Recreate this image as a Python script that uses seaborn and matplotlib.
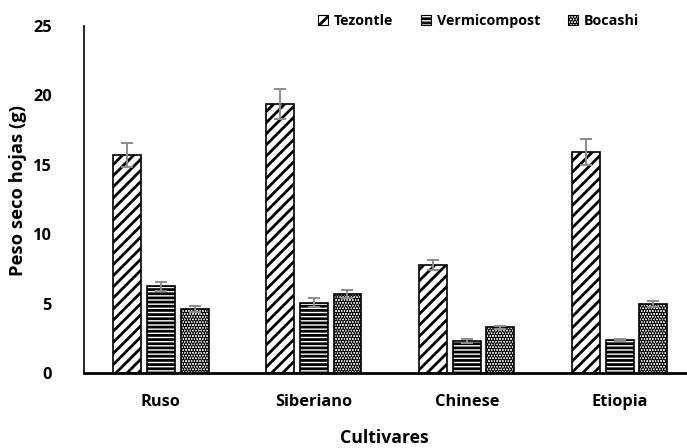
import numpy as np
import pandas as pd
import matplotlib
matplotlib.use("Agg")
import matplotlib.pyplot as plt
from matplotlib.patches import Patch
import seaborn as sns

# Leaf dry weight per cultivar and substrate
cultivares = ["Ruso", "Siberiano", "Chinese", "Etiopia"]
sustratos = ["Tezontle", "Vermicompost", "Bocashi"]
tezontle = [15.7, 19.35, 7.75, 15.95]
vermicompost = [6.25, 5.06, 2.29, 2.36]
bocashi = [4.62, 5.68, 3.28, 4.95]
err_tezontle = [0.85, 1.08, 0.36, 0.93]
err_vermicompost = [0.34, 0.33, 0.15, 0.08]
err_bocashi = [0.21, 0.28, 0.12, 0.22]
yticks = [0, 5, 10, 15, 20, 25]

values = {"Tezontle": tezontle, "Vermicompost": vermicompost, "Bocashi": bocashi}
errors = {"Tezontle": err_tezontle, "Vermicompost": err_vermicompost, "Bocashi": err_bocashi}
hatches = {"Tezontle": "///", "Vermicompost": "----", "Bocashi": "......"}

df = pd.DataFrame(
    [(c, s, values[s][i]) for s in sustratos for i, c in enumerate(cultivares)],
    columns=["Cultivar", "Sustrato", "Peso"],
)

sns.set_theme(style="white")
plt.rcParams["font.family"] = ["Open Sans", "DejaVu Sans"]
plt.rcParams["hatch.linewidth"] = 2.0
plt.rcParams["text.color"] = "black"
plt.rcParams["axes.labelcolor"] = "black"

W, H = 687, 448
fig = plt.figure(figsize=(W / 100, H / 100), dpi=100)
ax = fig.add_axes([84 / W, (H - 373) / H, (W - 84) / W, (373 - 26) / H])

sns.barplot(
    data=df, x="Cultivar", y="Peso", hue="Sustrato",
    order=cultivares, hue_order=sustratos,
    palette=["white"] * 3, edgecolor="black", linewidth=1.2,
    width=0.66, gap=0.17, errorbar=None, legend=False, ax=ax,
)

for cont, s in zip(ax.containers, sustratos):
    xs, ys = [], []
    for bar in cont:
        bar.set_hatch(hatches[s])
        bar.set_edgecolor("black")
        bar.set_facecolor("white")
        xs.append(bar.get_x() + bar.get_width() / 2)
        ys.append(bar.get_height())
    ax.errorbar(xs, ys, yerr=errors[s], fmt="none", ecolor="#8c8c8c",
                elinewidth=1.4, capsize=4.5, capthick=1.4, zorder=5)

ax.set_ylim(0, 25)
ax.set_yticks(yticks)
ax.set_xlim(-0.503, 3.44)

for side in ["top", "right"]:
    ax.spines[side].set_visible(False)
ax.spines["left"].set_color("black")
ax.spines["left"].set_linewidth(1.2)
ax.spines["bottom"].set_color("black")
ax.spines["bottom"].set_linewidth(2.0)

ax.tick_params(axis="both", length=0, labelsize=11.8, colors="black")
ax.tick_params(axis="y", pad=23)
ax.tick_params(axis="x", pad=15)
for lbl in ax.get_xticklabels() + ax.get_yticklabels():
    lbl.set_fontweight("bold")

ax.set_xlabel("Cultivares", fontsize=12.7, fontweight="bold")
ax.set_ylabel("Peso seco hojas (g)", fontsize=13.2, fontweight="bold")
ax.xaxis.set_label_coords((384 - 84) / (W - 84), -(438 - 373) / (373 - 26))
ax.yaxis.set_label_coords(-(84 - 18) / (W - 84), (373 - 190) / (373 - 26))
ax.xaxis.label.set_va("center")
ax.yaxis.label.set_va("center")

handles = [Patch(facecolor="white", edgecolor="black", hatch=hatches[s], linewidth=0.8, label=s)
           for s in sustratos]
fig.legend(handles=handles, ncol=3, frameon=False, loc="center right",
           bbox_to_anchor=(652 / W, 1 - 21 / H),
           handlelength=0.75, handleheight=0.75, handletextpad=0.4, columnspacing=1.9,
           prop={"weight": "bold", "size": 10.3})

fig.savefig("out.png", dpi=100)
